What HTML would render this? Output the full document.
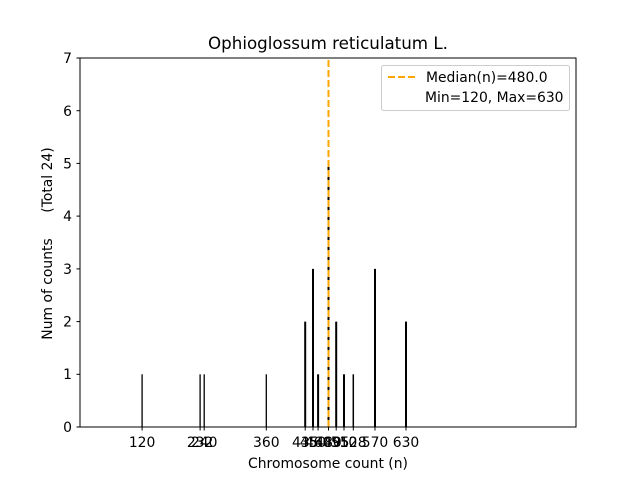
<!DOCTYPE html>
<html><head><meta charset="utf-8"><style>body{margin:0;background:#fff}svg{display:block}</style></head><body>
<svg width="640" height="480" xmlns="http://www.w3.org/2000/svg" font-family="DejaVu Sans, Liberation Sans, sans-serif">
<rect width="640" height="480" fill="#fff"/>
<g stroke="#000" stroke-width="2">
<line x1="142.1" y1="427" x2="142.1" y2="374.3" stroke-width="1.3"/>
<line x1="200.1" y1="427" x2="200.1" y2="374.3" stroke-width="1.3"/>
<line x1="204.2" y1="427" x2="204.2" y2="374.3" stroke-width="1.3"/>
<line x1="266.3" y1="427" x2="266.3" y2="374.3" stroke-width="1.3"/>
<line x1="305.2" y1="427" x2="305.2" y2="321.6"/>
<line x1="313" y1="427" x2="313" y2="268.9"/>
<line x1="318.1" y1="427" x2="318.1" y2="374.3"/>
<line x1="328.5" y1="427" x2="328.5" y2="163.5"/>
<line x1="336.2" y1="427" x2="336.2" y2="321.6"/>
<line x1="344" y1="427" x2="344" y2="374.3"/>
<line x1="353.3" y1="427" x2="353.3" y2="374.3" stroke-width="1.5"/>
<line x1="375" y1="427" x2="375" y2="268.9"/>
<line x1="406" y1="427" x2="406" y2="321.6"/>
</g>
<line x1="328.5" y1="427" x2="328.5" y2="58" stroke="orange" stroke-width="2" stroke-dasharray="7,3"/>
<rect x="80" y="58" width="496" height="369" fill="none" stroke="#000" stroke-width="1"/>
<g stroke="#000" stroke-width="1">
<line x1="80" y1="427" x2="76.5" y2="427"/><line x1="80" y1="374.3" x2="76.5" y2="374.3"/><line x1="80" y1="321.6" x2="76.5" y2="321.6"/><line x1="80" y1="268.9" x2="76.5" y2="268.9"/><line x1="80" y1="216.1" x2="76.5" y2="216.1"/><line x1="80" y1="163.4" x2="76.5" y2="163.4"/><line x1="80" y1="110.7" x2="76.5" y2="110.7"/><line x1="80" y1="58" x2="76.5" y2="58"/>
<line x1="142.1" y1="427" x2="142.1" y2="430.5"/><line x1="200.1" y1="427" x2="200.1" y2="430.5"/><line x1="204.2" y1="427" x2="204.2" y2="430.5"/><line x1="266.3" y1="427" x2="266.3" y2="430.5"/><line x1="305.2" y1="427" x2="305.2" y2="430.5"/><line x1="313" y1="427" x2="313" y2="430.5"/><line x1="318.1" y1="427" x2="318.1" y2="430.5"/><line x1="328.5" y1="427" x2="328.5" y2="430.5"/><line x1="336.2" y1="427" x2="336.2" y2="430.5"/><line x1="344" y1="427" x2="344" y2="430.5"/><line x1="353.3" y1="427" x2="353.3" y2="430.5"/><line x1="375" y1="427" x2="375" y2="430.5"/><line x1="406" y1="427" x2="406" y2="430.5"/>
</g>
<g font-size="13.9" text-anchor="end">
<text x="72" y="432">0</text><text x="72" y="379">1</text><text x="72" y="326.5">2</text><text x="72" y="274">3</text><text x="72" y="221">4</text><text x="72" y="168.5">5</text><text x="72" y="116">6</text><text x="72" y="63">7</text>
</g>
<g font-size="13.9" text-anchor="middle">
<text x="142.1" y="447">120</text><text x="200.1" y="447">232</text><text x="204.2" y="447">240</text><text x="266.3" y="447">360</text><text x="305.2" y="447">435</text><text x="313" y="447">450</text><text x="318.1" y="447">460</text><text x="328.5" y="447">480</text><text x="336.2" y="447">495</text><text x="344" y="447">510</text><text x="353.3" y="447">528</text><text x="375" y="447">570</text><text x="406" y="447">630</text>
<text x="328" y="468">Chromosome count (n)</text>
<text x="328" y="49" font-size="16.7">Ophioglossum reticulatum L.</text>
</g>
<text transform="translate(52,289) rotate(-90)" font-size="13.9" text-anchor="middle">Num of counts</text>
<text transform="translate(52,180) rotate(-90)" font-size="13.9" text-anchor="middle">(Total 24)</text>
<rect x="381.5" y="65.5" width="188" height="45" rx="2" fill="#fff" stroke="#ccc"/>
<line x1="388" y1="77" x2="416" y2="77" stroke="orange" stroke-width="2" stroke-dasharray="7,3"/>
<text x="426" y="82" font-size="13.9">Median(n)=480.0</text>
<text x="425" y="102" font-size="13.9">Min=120, Max=630</text>
</svg>
</body></html>
